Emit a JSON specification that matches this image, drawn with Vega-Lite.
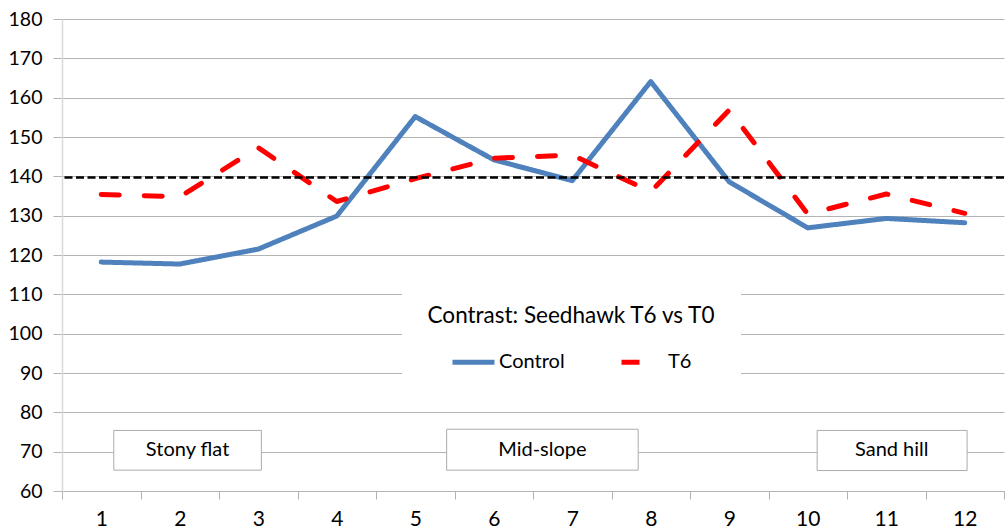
{
  "$schema": "https://vega.github.io/schema/vega-lite/v6.json",
  "width": 942,
  "height": 472,
  "autosize": {"type": "none"},
  "padding": {"left": 62, "top": 19, "right": 2, "bottom": 38},
  "background": "white",
  "config": {
    "font": "Lato",
    "view": {"stroke": null},
    "axis": {"labelColor": "#000000", "labelFont": "Lato"},
    "legend": {"labelFont": "Lato", "titleFont": "Lato"}
  },
  "resolve": {"axis": {"x": "independent", "y": "independent"}},
  "datasets": {
    "series": [
      {"site": 1, "series": "Control", "value": 118.2},
      {"site": 2, "series": "Control", "value": 117.7},
      {"site": 3, "series": "Control", "value": 121.5},
      {"site": 4, "series": "Control", "value": 129.9},
      {"site": 5, "series": "Control", "value": 155.2},
      {"site": 6, "series": "Control", "value": 144.2},
      {"site": 7, "series": "Control", "value": 138.9},
      {"site": 8, "series": "Control", "value": 164.1},
      {"site": 9, "series": "Control", "value": 138.6},
      {"site": 10, "series": "Control", "value": 126.9},
      {"site": 11, "series": "Control", "value": 129.3},
      {"site": 12, "series": "Control", "value": 128.2},
      {"site": 1, "series": "T6", "value": 135.4},
      {"site": 2, "series": "T6", "value": 134.8},
      {"site": 3, "series": "T6", "value": 147.3},
      {"site": 4, "series": "T6", "value": 133.6},
      {"site": 5, "series": "T6", "value": 139.4},
      {"site": 6, "series": "T6", "value": 144.6},
      {"site": 7, "series": "T6", "value": 145.4},
      {"site": 8, "series": "T6", "value": 136.1},
      {"site": 9, "series": "T6", "value": 156.9},
      {"site": 10, "series": "T6", "value": 130.4},
      {"site": 11, "series": "T6", "value": 135.5},
      {"site": 12, "series": "T6", "value": 130.6}
    ],
    "reference": [{"ref": 139.7}],
    "zones": [
      {"zone": "Stony flat", "from": 1.16, "to": 3.04, "center": 2.1, "low": 65.3, "high": 75.4, "mid": 70.3},
      {"zone": "Mid-slope", "from": 5.4, "to": 7.84, "center": 6.62, "low": 65.3, "high": 75.7, "mid": 70.5},
      {"zone": "Sand hill", "from": 10.12, "to": 12.03, "center": 11.07, "low": 65.2, "high": 75.4, "mid": 70.3}
    ]
  },
  "layer": [
    {
      "data": {"name": "series"},
      "mark": {"type": "line", "strokeWidth": 5, "strokeCap": "round", "strokeJoin": "round"},
      "encoding": {
        "x": {
          "field": "site",
          "type": "quantitative",
          "scale": {"domain": [0.5, 12.5], "nice": false, "zero": false},
          "axis": {
            "orient": "bottom",
            "title": null,
            "values": [0.5, 1, 1.5, 2, 2.5, 3, 3.5, 4, 4.5, 5, 5.5, 6, 6.5, 7, 7.5, 8, 8.5, 9, 9.5, 10, 10.5, 11, 11.5, 12, 12.5],
            "labelExpr": "datum.value % 1 == 0 ? format(datum.value, 'd') : ''",
            "labelOverlap": false,
            "labelFlush": false,
            "labelBound": false,
            "labelFontSize": 21,
            "labelPadding": 9,
            "grid": false,
            "domain": true,
            "domainColor": "#B3B3B3",
            "domainWidth": 1,
            "ticks": true,
            "tickSize": 8,
            "tickColor": "#B3B3B3",
            "tickOpacity": {"condition": {"test": "datum.value % 1 == 0", "value": 0}, "value": 1}
          }
        },
        "y": {
          "field": "value",
          "type": "quantitative",
          "scale": {"domain": [60, 180], "nice": false, "zero": false},
          "axis": {
            "orient": "left",
            "title": null,
            "values": [60, 70, 80, 90, 100, 110, 120, 130, 140, 150, 160, 170, 180],
            "labelOverlap": false,
            "labelFontSize": 19.5,
            "labelPadding": 11,
            "grid": true,
            "gridColor": "#B3B3B3",
            "gridWidth": 1,
            "domain": true,
            "domainColor": "#D9D9D9",
            "domainWidth": 1.5,
            "tickSize": 9,
            "tickColor": "#B3B3B3"
          }
        },
        "color": {
          "field": "series",
          "type": "nominal",
          "scale": {"domain": ["Control", "T6"], "range": ["#4F81BD", "#FF0000"]},
          "legend": {
            "title": "Contrast: Seedhawk T6 vs T0",
            "titleFontSize": 22.5,
            "titleFontWeight": "normal",
            "titleColor": "#000000",
            "titleAnchor": "middle",
            "titleLimit": 500,
            "titlePadding": 11,
            "orient": "none",
            "legendX": 340,
            "legendY": 261,
            "direction": "horizontal",
            "columns": 2,
            "columnPadding": 46,
            "symbolType": "stroke",
            "symbolSize": 1764,
            "symbolStrokeWidth": 5,
            "labelFontSize": 20,
            "labelColor": "#000000",
            "labelOffset": 2,
            "fillColor": "white",
            "padding": 25
          }
        },
        "strokeDash": {
          "field": "series",
          "type": "nominal",
          "scale": {"domain": ["Control", "T6"], "range": [[1, 0], [18, 25]]},
          "legend": {
            "title": "Contrast: Seedhawk T6 vs T0"
          }
        }
      }
    },
    {
      "data": {"name": "zones"},
      "mark": {"type": "rect", "fill": "white", "stroke": "#ABABAB", "strokeWidth": 1},
      "encoding": {
        "x": {"field": "from", "type": "quantitative", "axis": null},
        "x2": {"field": "to"},
        "y": {"field": "low", "type": "quantitative", "axis": null},
        "y2": {"field": "high"}
      }
    },
    {
      "data": {"name": "zones"},
      "mark": {"type": "text", "fontSize": 20, "color": "#000000", "baseline": "middle", "align": "center"},
      "encoding": {
        "x": {"field": "center", "type": "quantitative", "axis": null},
        "y": {"field": "mid", "type": "quantitative", "axis": null},
        "text": {"field": "zone"}
      }
    },
    {
      "data": {"name": "reference"},
      "mark": {"type": "rule", "color": "#000000", "strokeWidth": 2.5, "strokeDash": [8, 3.5]},
      "encoding": {
        "y": {"field": "ref", "type": "quantitative", "axis": null}
      }
    }
  ]
}
